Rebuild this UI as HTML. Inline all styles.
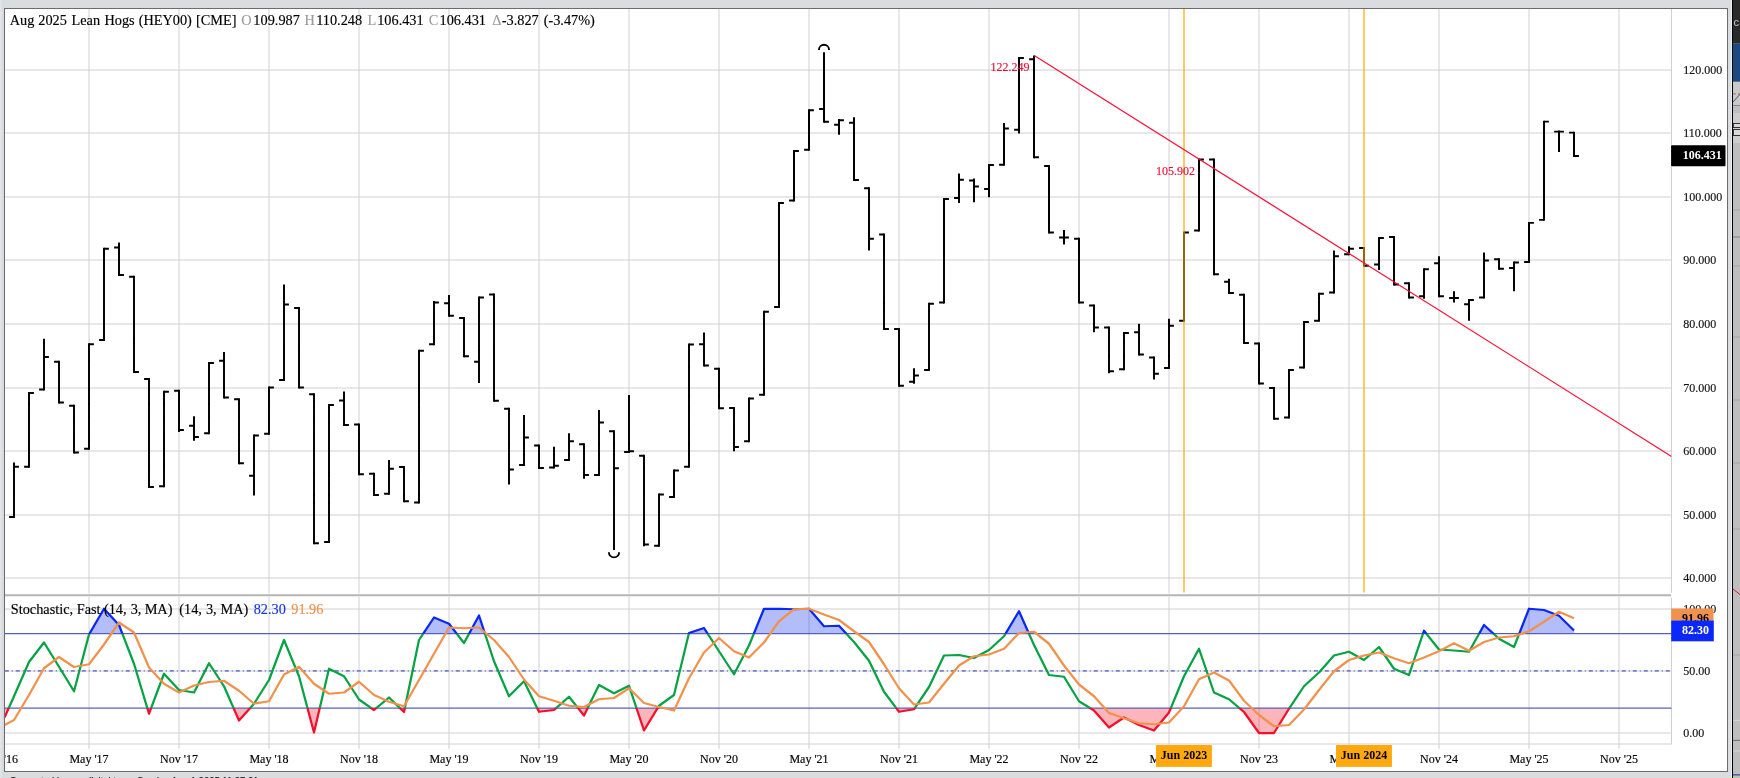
<!DOCTYPE html>
<html><head><meta charset="utf-8"><title>Chart</title>
<style>html,body{margin:0;padding:0;background:#d9dde0;}body{width:1740px;height:778px;overflow:hidden;position:relative;font-family:"Liberation Serif", serif;}</style>
</head><body>
<svg width="1740" height="778" viewBox="0 0 1740 778" style="position:absolute;left:0;top:0;will-change:transform;font-family:'Liberation Serif',serif">
<defs>
<clipPath id="cpPanel"><rect x="5" y="9" width="1722" height="762"/></clipPath>
<clipPath id="cpMain"><rect x="5" y="9" width="1666.5" height="585"/></clipPath>
<clipPath id="cpSt"><rect x="5" y="597" width="1666.5" height="147"/></clipPath>
<clipPath id="cpHi"><rect x="5" y="597" width="1666.5" height="36.75"/></clipPath>
<clipPath id="cpMid"><rect x="5" y="633.75" width="1666.5" height="74.25"/></clipPath>
<clipPath id="cpLo"><rect x="5" y="708" width="1666.5" height="36"/></clipPath>
<linearGradient id="lg" x1="0" x2="1" y1="0" y2="0"><stop offset="0" stop-color="#e4e7ea"/><stop offset="1" stop-color="#d3d7db"/></linearGradient>
</defs>
<rect x="0" y="0" width="1740" height="778" fill="#d9dde0"/>
<rect x="0" y="0" width="4" height="778" fill="url(#lg)"/>
<rect x="4.5" y="8.5" width="1723" height="763" fill="#ffffff" stroke="#6a6c6f" stroke-width="1"/>
<line x1="89" y1="9" x2="89" y2="593.5" stroke="#d0d0d3" stroke-width="1"/>
<line x1="89" y1="597" x2="89" y2="749" stroke="#d0d0d3" stroke-width="1"/>
<line x1="179" y1="9" x2="179" y2="593.5" stroke="#d0d0d3" stroke-width="1"/>
<line x1="179" y1="597" x2="179" y2="749" stroke="#d0d0d3" stroke-width="1"/>
<line x1="269" y1="9" x2="269" y2="593.5" stroke="#d0d0d3" stroke-width="1"/>
<line x1="269" y1="597" x2="269" y2="749" stroke="#d0d0d3" stroke-width="1"/>
<line x1="359" y1="9" x2="359" y2="593.5" stroke="#d0d0d3" stroke-width="1"/>
<line x1="359" y1="597" x2="359" y2="749" stroke="#d0d0d3" stroke-width="1"/>
<line x1="449" y1="9" x2="449" y2="593.5" stroke="#d0d0d3" stroke-width="1"/>
<line x1="449" y1="597" x2="449" y2="749" stroke="#d0d0d3" stroke-width="1"/>
<line x1="539" y1="9" x2="539" y2="593.5" stroke="#d0d0d3" stroke-width="1"/>
<line x1="539" y1="597" x2="539" y2="749" stroke="#d0d0d3" stroke-width="1"/>
<line x1="629" y1="9" x2="629" y2="593.5" stroke="#d0d0d3" stroke-width="1"/>
<line x1="629" y1="597" x2="629" y2="749" stroke="#d0d0d3" stroke-width="1"/>
<line x1="719" y1="9" x2="719" y2="593.5" stroke="#d0d0d3" stroke-width="1"/>
<line x1="719" y1="597" x2="719" y2="749" stroke="#d0d0d3" stroke-width="1"/>
<line x1="809" y1="9" x2="809" y2="593.5" stroke="#d0d0d3" stroke-width="1"/>
<line x1="809" y1="597" x2="809" y2="749" stroke="#d0d0d3" stroke-width="1"/>
<line x1="899" y1="9" x2="899" y2="593.5" stroke="#d0d0d3" stroke-width="1"/>
<line x1="899" y1="597" x2="899" y2="749" stroke="#d0d0d3" stroke-width="1"/>
<line x1="989" y1="9" x2="989" y2="593.5" stroke="#d0d0d3" stroke-width="1"/>
<line x1="989" y1="597" x2="989" y2="749" stroke="#d0d0d3" stroke-width="1"/>
<line x1="1079" y1="9" x2="1079" y2="593.5" stroke="#d0d0d3" stroke-width="1"/>
<line x1="1079" y1="597" x2="1079" y2="749" stroke="#d0d0d3" stroke-width="1"/>
<line x1="1169" y1="9" x2="1169" y2="593.5" stroke="#d0d0d3" stroke-width="1"/>
<line x1="1169" y1="597" x2="1169" y2="749" stroke="#d0d0d3" stroke-width="1"/>
<line x1="1259" y1="9" x2="1259" y2="593.5" stroke="#d0d0d3" stroke-width="1"/>
<line x1="1259" y1="597" x2="1259" y2="749" stroke="#d0d0d3" stroke-width="1"/>
<line x1="1349" y1="9" x2="1349" y2="593.5" stroke="#d0d0d3" stroke-width="1"/>
<line x1="1349" y1="597" x2="1349" y2="749" stroke="#d0d0d3" stroke-width="1"/>
<line x1="1439" y1="9" x2="1439" y2="593.5" stroke="#d0d0d3" stroke-width="1"/>
<line x1="1439" y1="597" x2="1439" y2="749" stroke="#d0d0d3" stroke-width="1"/>
<line x1="1529" y1="9" x2="1529" y2="593.5" stroke="#d0d0d3" stroke-width="1"/>
<line x1="1529" y1="597" x2="1529" y2="749" stroke="#d0d0d3" stroke-width="1"/>
<line x1="1619" y1="9" x2="1619" y2="593.5" stroke="#d0d0d3" stroke-width="1"/>
<line x1="1619" y1="597" x2="1619" y2="749" stroke="#d0d0d3" stroke-width="1"/>
<line x1="5" y1="70" x2="1671.5" y2="70" stroke="#d0d0d3" stroke-width="1"/>
<line x1="5" y1="133" x2="1671.5" y2="133" stroke="#d0d0d3" stroke-width="1"/>
<line x1="5" y1="197" x2="1671.5" y2="197" stroke="#d0d0d3" stroke-width="1"/>
<line x1="5" y1="260" x2="1671.5" y2="260" stroke="#d0d0d3" stroke-width="1"/>
<line x1="5" y1="324" x2="1671.5" y2="324" stroke="#d0d0d3" stroke-width="1"/>
<line x1="5" y1="388" x2="1671.5" y2="388" stroke="#d0d0d3" stroke-width="1"/>
<line x1="5" y1="451" x2="1671.5" y2="451" stroke="#d0d0d3" stroke-width="1"/>
<line x1="5" y1="515" x2="1671.5" y2="515" stroke="#d0d0d3" stroke-width="1"/>
<line x1="5" y1="578" x2="1671.5" y2="578" stroke="#d0d0d3" stroke-width="1"/>
<line x1="5" y1="609" x2="1671.5" y2="609" stroke="#d0d0d3" stroke-width="1"/>
<line x1="5" y1="671" x2="1671.5" y2="671" stroke="#d0d0d3" stroke-width="1"/>
<line x1="5" y1="733" x2="1671.5" y2="733" stroke="#d0d0d3" stroke-width="1"/>
<line x1="5" y1="744" x2="1671.5" y2="744" stroke="#d0d0d3" stroke-width="1"/>
<line x1="1671.5" y1="9" x2="1671.5" y2="592.8" stroke="#d0d0d4" stroke-width="1"/>
<line x1="1671.5" y1="598" x2="1671.5" y2="744.5" stroke="#d0d0d4" stroke-width="1"/>
<line x1="5" y1="595.3" x2="1671" y2="595.3" stroke="#b4b4b4" stroke-width="2"/>
<path d="M14 462.5V517.9M29 392.1V467.65M44 338.75V390.4M59 360.85V403.4M74 404.85V453.4M89 343.35V449.65M104 247.85V340.9M119 242.5V275.9M134 275.85V372.9M149 378.1V487.9M164 390.85V487.15M179 389.85V432M194 416.25V440.75M209 362.1V434.15M224 352V398.4M239 398.35V464.15M254 434.6V495.5M269 386.6V434.65M284 284.5V380.9M299 307.1V388.4M314 393.35V544.15M329 404.1V542.9M344 391.5V425.9M359 423.6V475.15M374 472.85V495.9M389 460V494.65M404 466.1V502.15M419 349.85V503.4M434 301V345.15M449 295V316.65M464 317.1V357.15M479 296.6V383M494 293.6V401.65M509 407.85V484.5M524 415V465.9M539 444.6V468.9M554 446.75V468.4M569 433.25V460.9M584 443.35V478.75M599 410V475.9M614 430.35V550M629 395V452.9M644 454.85V546.25M659 493.6V546.65M674 469.6V497.9M689 343.6V467.65M704 332.5V366.4M719 367.85V409.15M734 407.1V451.25M749 397.6V442.15M764 310.85V395.65M779 202.1V307.9M794 150.1V201.4M809 109.35V150.65M824 52.25V122.65M839 119V134.75M854 117.25V180.9M869 187.35V250.5M884 233.6V329.9M899 328.1V386.65M914 368.25V383.75M929 302.85V370.9M944 198.1V303.4M959 173.5V203M974 178.5V202.25M989 164.1V197.25M1004 123V165.65M1019 57.1V133.5M1034 55.5V158.15M1049 165.1V233.4M1064 230V244.5M1079 237.85V303.4M1094 304.6V332.25M1109 326.6V373.25M1124 332.1V370.15M1139 323.75V355.4M1154 356.6V379.5M1169 318.75V368.9M1184 231.6V321.65M1199 158.6V231.4M1214 158.6V275.15M1229 278.75V293.9M1244 293.85V343.9M1259 342.6V384.4M1274 387.1V419.65M1289 369.1V418.4M1304 321.1V368.4M1319 292.85V321.65M1334 250.5V293.4M1349 246.25V255.15M1364 247.1V266.65M1379 237.1V270M1394 236.1V285.4M1409 282.35V298.4M1424 268.35V298.75M1439 256.25V297.15M1454 291.25V302.5M1469 299.1V320.75M1484 252.5V298.4M1499 258.35V269.65M1514 261.6V291.25M1529 222V262.9M1544 120.7V220.8M1559 130.4V152.1M1574 131.7V156.9" stroke="#000" stroke-width="1.95" fill="none" clip-path="url(#cpMain)"/>
<path d="M9.1 517H14M14 466.75H18.9M24.1 466.75H29M29 393H33.9M39.1 389.5H44M44 357H48.9M54.1 361.75H59M59 402.5H63.9M69.1 405.75H74M74 452.5H78.9M84.1 448.75H89M89 344.25H93.9M99.1 340H104M104 248.75H108.9M114.1 247.5H119M119 275H123.9M129.1 276.75H134M134 372H138.9M144.1 379H149M149 487H153.9M159.1 486.25H164M164 391.75H168.9M174.1 390.75H179M179 430H183.9M189.1 425.75H194M194 437H198.9M204.1 433.25H209M209 363H213.9M219.1 360.75H224M224 397.5H228.9M234.1 399.25H239M239 463.25H243.9M249.1 475.75H254M254 435.5H258.9M264.1 433.75H269M269 387.5H273.9M279.1 380H284M284 304.5H288.9M294.1 308H299M299 387.5H303.9M309.1 394.25H314M314 543.25H318.9M324.1 542H329M329 405H333.9M339.1 400.5H344M344 425H348.9M354.1 424.5H359M359 474.25H363.9M369.1 473.75H374M374 495H378.9M384.1 493.75H389M389 468.75H393.9M399.1 467H404M404 501.25H408.9M414.1 502.5H419M419 350.75H423.9M429.1 344.25H434M434 302.5H438.9M444.1 303.25H449M449 315.75H453.9M459.1 318H464M464 356.25H468.9M474.1 361.75H479M479 297.5H483.9M489.1 294.5H494M494 400.75H498.9M504.1 408.75H509M509 469.5H513.9M519.1 465H524M524 437.5H528.9M534.1 445.5H539M539 468H543.9M549.1 467.5H554M554 465.75H558.9M564.1 460H569M569 441.25H573.9M579.1 444.25H584M584 475H588.9M594.1 475H599M599 422.5H603.9M609.1 431.25H614M614 468.25H618.9M624.1 452H629M629 451.25H633.9M639.1 455.75H644M644 544.5H648.9M654.1 545.75H659M659 494.5H663.9M669.1 497H674M674 470.5H678.9M684.1 466.75H689M689 344.5H693.9M699.1 344.25H704M704 365.5H708.9M714.1 368.75H719M719 408.25H723.9M729.1 408H734M734 447H738.9M744.1 441.25H749M749 398.5H753.9M759.1 394.75H764M764 311.75H768.9M774.1 307H779M779 203H783.9M789.1 200.5H794M794 151H798.9M804.1 149.75H809M809 110.25H813.9M819.1 109H824M824 121.75H828.9M834.1 124.75H839M839 120.25H843.9M849.1 122.75H854M854 180H858.9M864.1 188.25H869M869 238.75H873.9M879.1 234.5H884M884 329H888.9M894.1 329H899M899 385.75H903.9M909.1 381.75H914M914 375.5H918.9M924.1 370H929M929 303.75H933.9M939.1 302.5H944M944 199H948.9M954.1 198H959M959 179.75H963.9M969.1 180.5H974M974 186.5H978.9M984.1 189H989M989 165H993.9M999.1 164.75H1004M1004 128.5H1008.9M1014.1 129.75H1019M1019 58H1023.9M1029.1 59.25H1034M1034 157.25H1038.9M1044.1 166H1049M1049 232.5H1053.9M1059.1 237.5H1064M1064 237.5H1068.9M1074.1 238.75H1079M1079 302.5H1083.9M1089.1 305.5H1094M1094 327.5H1098.9M1104.1 327.5H1109M1109 371.25H1113.9M1119.1 369.25H1124M1124 333H1128.9M1134.1 332.25H1139M1139 354.5H1143.9M1149.1 357.5H1154M1154 373.75H1158.9M1164.1 368H1169M1169 325.75H1173.9M1179.1 320.75H1184M1184 232.5H1188.9M1194.1 230.5H1199M1199 159.5H1203.9M1209.1 159.5H1214M1214 274.25H1218.9M1224.1 281.75H1229M1229 293H1233.9M1239.1 294.75H1244M1244 343H1248.9M1254.1 343.5H1259M1259 383.5H1263.9M1269.1 388H1274M1274 418.75H1278.9M1284.1 417.5H1289M1289 370H1293.9M1299.1 367.5H1304M1304 322H1308.9M1314.1 320.75H1319M1319 293.75H1323.9M1329.1 292.5H1334M1334 256.25H1338.9M1344.1 254.25H1349M1349 248.75H1353.9M1359.1 248H1364M1364 265.75H1368.9M1374.1 264.5H1379M1379 238H1383.9M1389.1 237H1394M1394 284.5H1398.9M1404.1 283.25H1409M1409 297.5H1413.9M1419.1 296.25H1424M1424 269.25H1428.9M1434.1 263.25H1439M1439 296.25H1443.9M1449.1 298H1454M1454 298H1458.9M1464.1 304.25H1469M1469 300H1473.9M1479.1 297.5H1484M1484 260.5H1488.9M1494.1 259.25H1499M1499 268.75H1503.9M1509.1 268H1514M1514 262.5H1518.9M1524.1 262H1529M1529 222.9H1533.9M1539.1 219.9H1544M1544 121.7H1548.9M1554.1 131.6H1559M1559 131.6H1563.9M1569.1 132.6H1574M1574 156H1578.9" stroke="#000" stroke-width="1.8" fill="none" clip-path="url(#cpMain)"/>
<line x1="1184.0" y1="9" x2="1184.0" y2="592.5" stroke="#ffa500" stroke-opacity="0.6" stroke-width="2"/>
<line x1="1364.0" y1="9" x2="1364.0" y2="592.5" stroke="#ffa500" stroke-opacity="0.6" stroke-width="2"/>
<path d="M818.9 49.9 A5.1 5.1 0 0 1 829.1 49.9" stroke="#000" stroke-width="1.9" fill="none"/>
<path d="M608.9 552.3 A5.1 5.1 0 0 0 619.1 552.3" stroke="#000" stroke-width="1.9" fill="none"/>
<line x1="1034.25" y1="55.5" x2="1671.5" y2="456.4" stroke="#fa0f3a" stroke-width="1.2" clip-path="url(#cpMain)"/>
<text x="990.6" y="71" font-size="12" fill="#ee0c3b" stroke="#ee0c3b" stroke-width="0.15">122.249</text>
<text x="1156.1" y="175" font-size="12" fill="#ee0c3b" stroke="#ee0c3b" stroke-width="0.15">105.902</text>
<text x="22.0" y="24.8" font-size="14.3" fill="#000" text-anchor="middle"  stroke="#000" stroke-width="0.15">Aug</text>
<text x="52.55" y="24.8" font-size="14.3" fill="#000" text-anchor="middle"  stroke="#000" stroke-width="0.15">2025</text>
<text x="85.8" y="24.8" font-size="14.3" fill="#000" text-anchor="middle"  stroke="#000" stroke-width="0.15">Lean</text>
<text x="119.55" y="24.8" font-size="14.3" fill="#000" text-anchor="middle"  stroke="#000" stroke-width="0.15">Hogs</text>
<text x="165.25" y="24.8" font-size="14.3" fill="#000" text-anchor="middle"  stroke="#000" stroke-width="0.15">(HEY00)</text>
<text x="216.2" y="24.8" font-size="14.3" fill="#000" text-anchor="middle"  stroke="#000" stroke-width="0.15">[CME]</text>
<text x="246.5" y="24.8" font-size="14.3" fill="#9a9a9a" text-anchor="middle"  stroke="#9a9a9a" stroke-width="0.15">O</text>
<text x="276.6" y="24.8" font-size="14.3" fill="#000" text-anchor="middle"  stroke="#000" stroke-width="0.15">109.987</text>
<text x="309.55" y="24.8" font-size="14.3" fill="#9a9a9a" text-anchor="middle"  stroke="#9a9a9a" stroke-width="0.15">H</text>
<text x="339.15" y="24.8" font-size="14.3" fill="#000" text-anchor="middle"  stroke="#000" stroke-width="0.15">110.248</text>
<text x="371.95" y="24.8" font-size="14.3" fill="#9a9a9a" text-anchor="middle"  stroke="#9a9a9a" stroke-width="0.15">L</text>
<text x="400.45" y="24.8" font-size="14.3" fill="#000" text-anchor="middle"  stroke="#000" stroke-width="0.15">106.431</text>
<text x="433.45" y="24.8" font-size="14.3" fill="#9a9a9a" text-anchor="middle"  stroke="#9a9a9a" stroke-width="0.15">C</text>
<text x="462.75" y="24.8" font-size="14.3" fill="#000" text-anchor="middle"  stroke="#000" stroke-width="0.15">106.431</text>
<text x="496.85" y="24.8" font-size="14.3" fill="#9a9a9a" text-anchor="middle"  stroke="#9a9a9a" stroke-width="0.15">&#916;</text>
<text x="520.25" y="24.8" font-size="14.3" fill="#000" text-anchor="middle"  stroke="#000" stroke-width="0.15">-3.827</text>
<text x="569.25" y="24.8" font-size="14.3" fill="#000" text-anchor="middle"  stroke="#000" stroke-width="0.15">(-3.47%)</text>
<text x="1683.3" y="73.7" font-size="12" fill="#111" stroke="#111" stroke-width="0.15">120.000</text>
<text x="1683.3" y="136.7" font-size="12" fill="#111" stroke="#111" stroke-width="0.15">110.000</text>
<text x="1683.3" y="200.7" font-size="12" fill="#111" stroke="#111" stroke-width="0.15">100.000</text>
<text x="1683.3" y="263.7" font-size="12" fill="#111" stroke="#111" stroke-width="0.15">90.000</text>
<text x="1683.3" y="327.7" font-size="12" fill="#111" stroke="#111" stroke-width="0.15">80.000</text>
<text x="1683.3" y="391.7" font-size="12" fill="#111" stroke="#111" stroke-width="0.15">70.000</text>
<text x="1683.3" y="454.7" font-size="12" fill="#111" stroke="#111" stroke-width="0.15">60.000</text>
<text x="1683.3" y="518.7" font-size="12" fill="#111" stroke="#111" stroke-width="0.15">50.000</text>
<text x="1683.3" y="581.7" font-size="12" fill="#111" stroke="#111" stroke-width="0.15">40.000</text>
<rect x="1671.1" y="145.3" width="54.4" height="21" rx="0.8" fill="#000"/>
<text x="1682.7" y="159" font-size="12" font-weight="bold" fill="#fff">106.431</text>
<polygon points="4.5,633.75 4.5,717.5 14,696.25 29,662 44,642.5 59,666.75 74,691.25 89,634.5 104,608.75 119,625 134,663.75 149,713.75 164,673.75 179,690 194,692.5 209,663.25 224,686.25 239,720.5 254,703.75 269,680 284,640 299,676.25 314,732.5 329,668.75 344,676.25 359,699.5 374,710 389,697.5 404,712 419,640 434,617.5 449,623.75 464,643 479,615.5 494,661.25 509,696.25 524,681.25 539,711.75 554,710 569,696.75 584,715.5 599,685 614,693.25 629,685.75 644,730.5 659,705.75 674,695 689,633 704,628 719,651.25 734,674.25 749,645.5 764,608.75 779,608.75 794,609.25 809,608.75 824,626.25 839,625.75 854,642 869,660.75 884,691.75 899,711.75 914,709.25 929,687 944,655.5 959,655 974,658 989,650 1004,636.25 1019,611.25 1034,645 1049,675 1064,676.75 1079,701.25 1094,710.5 1109,727.5 1124,717.5 1139,725 1154,730.5 1169,712.5 1184,676.25 1199,648.75 1214,692.5 1229,699.25 1244,712 1259,733 1274,733 1289,708.75 1304,686.25 1319,672.5 1334,655.5 1349,651.75 1364,660 1379,647 1394,668.75 1409,675 1424,630.75 1439,649.5 1454,650.5 1469,651.75 1484,625 1499,638.75 1514,647 1529,608.75 1544,610 1559,615.75 1574,630.5 1574,633.75" fill="#1432f0" fill-opacity="0.32" clip-path="url(#cpHi)"/>
<polygon points="4.5,708 4.5,717.5 14,696.25 29,662 44,642.5 59,666.75 74,691.25 89,634.5 104,608.75 119,625 134,663.75 149,713.75 164,673.75 179,690 194,692.5 209,663.25 224,686.25 239,720.5 254,703.75 269,680 284,640 299,676.25 314,732.5 329,668.75 344,676.25 359,699.5 374,710 389,697.5 404,712 419,640 434,617.5 449,623.75 464,643 479,615.5 494,661.25 509,696.25 524,681.25 539,711.75 554,710 569,696.75 584,715.5 599,685 614,693.25 629,685.75 644,730.5 659,705.75 674,695 689,633 704,628 719,651.25 734,674.25 749,645.5 764,608.75 779,608.75 794,609.25 809,608.75 824,626.25 839,625.75 854,642 869,660.75 884,691.75 899,711.75 914,709.25 929,687 944,655.5 959,655 974,658 989,650 1004,636.25 1019,611.25 1034,645 1049,675 1064,676.75 1079,701.25 1094,710.5 1109,727.5 1124,717.5 1139,725 1154,730.5 1169,712.5 1184,676.25 1199,648.75 1214,692.5 1229,699.25 1244,712 1259,733 1274,733 1289,708.75 1304,686.25 1319,672.5 1334,655.5 1349,651.75 1364,660 1379,647 1394,668.75 1409,675 1424,630.75 1439,649.5 1454,650.5 1469,651.75 1484,625 1499,638.75 1514,647 1529,608.75 1544,610 1559,615.75 1574,630.5 1574,708" fill="#f50a1e" fill-opacity="0.3" clip-path="url(#cpLo)"/>
<line x1="5" y1="633.6" x2="1671.5" y2="633.6" stroke="#5860be" stroke-width="1.35"/>
<line x1="5" y1="708.1" x2="1671.5" y2="708.1" stroke="#5860be" stroke-width="1.35"/>
<line x1="4.8" y1="670.9" x2="1671.5" y2="670.9" stroke="#7b80cc" stroke-width="1.8" stroke-dasharray="4 3 1 3"/>
<polyline points="4.5,717.5 14,696.25 29,662 44,642.5 59,666.75 74,691.25 89,634.5 104,608.75 119,625 134,663.75 149,713.75 164,673.75 179,690 194,692.5 209,663.25 224,686.25 239,720.5 254,703.75 269,680 284,640 299,676.25 314,732.5 329,668.75 344,676.25 359,699.5 374,710 389,697.5 404,712 419,640 434,617.5 449,623.75 464,643 479,615.5 494,661.25 509,696.25 524,681.25 539,711.75 554,710 569,696.75 584,715.5 599,685 614,693.25 629,685.75 644,730.5 659,705.75 674,695 689,633 704,628 719,651.25 734,674.25 749,645.5 764,608.75 779,608.75 794,609.25 809,608.75 824,626.25 839,625.75 854,642 869,660.75 884,691.75 899,711.75 914,709.25 929,687 944,655.5 959,655 974,658 989,650 1004,636.25 1019,611.25 1034,645 1049,675 1064,676.75 1079,701.25 1094,710.5 1109,727.5 1124,717.5 1139,725 1154,730.5 1169,712.5 1184,676.25 1199,648.75 1214,692.5 1229,699.25 1244,712 1259,733 1274,733 1289,708.75 1304,686.25 1319,672.5 1334,655.5 1349,651.75 1364,660 1379,647 1394,668.75 1409,675 1424,630.75 1439,649.5 1454,650.5 1469,651.75 1484,625 1499,638.75 1514,647 1529,608.75 1544,610 1559,615.75 1574,630.5" fill="none" stroke="#05a343" stroke-width="2.25" stroke-linejoin="round" clip-path="url(#cpMid)"/>
<polyline points="4.5,717.5 14,696.25 29,662 44,642.5 59,666.75 74,691.25 89,634.5 104,608.75 119,625 134,663.75 149,713.75 164,673.75 179,690 194,692.5 209,663.25 224,686.25 239,720.5 254,703.75 269,680 284,640 299,676.25 314,732.5 329,668.75 344,676.25 359,699.5 374,710 389,697.5 404,712 419,640 434,617.5 449,623.75 464,643 479,615.5 494,661.25 509,696.25 524,681.25 539,711.75 554,710 569,696.75 584,715.5 599,685 614,693.25 629,685.75 644,730.5 659,705.75 674,695 689,633 704,628 719,651.25 734,674.25 749,645.5 764,608.75 779,608.75 794,609.25 809,608.75 824,626.25 839,625.75 854,642 869,660.75 884,691.75 899,711.75 914,709.25 929,687 944,655.5 959,655 974,658 989,650 1004,636.25 1019,611.25 1034,645 1049,675 1064,676.75 1079,701.25 1094,710.5 1109,727.5 1124,717.5 1139,725 1154,730.5 1169,712.5 1184,676.25 1199,648.75 1214,692.5 1229,699.25 1244,712 1259,733 1274,733 1289,708.75 1304,686.25 1319,672.5 1334,655.5 1349,651.75 1364,660 1379,647 1394,668.75 1409,675 1424,630.75 1439,649.5 1454,650.5 1469,651.75 1484,625 1499,638.75 1514,647 1529,608.75 1544,610 1559,615.75 1574,630.5" fill="none" stroke="#0a28f5" stroke-width="2.25" stroke-linejoin="round" clip-path="url(#cpHi)"/>
<polyline points="4.5,717.5 14,696.25 29,662 44,642.5 59,666.75 74,691.25 89,634.5 104,608.75 119,625 134,663.75 149,713.75 164,673.75 179,690 194,692.5 209,663.25 224,686.25 239,720.5 254,703.75 269,680 284,640 299,676.25 314,732.5 329,668.75 344,676.25 359,699.5 374,710 389,697.5 404,712 419,640 434,617.5 449,623.75 464,643 479,615.5 494,661.25 509,696.25 524,681.25 539,711.75 554,710 569,696.75 584,715.5 599,685 614,693.25 629,685.75 644,730.5 659,705.75 674,695 689,633 704,628 719,651.25 734,674.25 749,645.5 764,608.75 779,608.75 794,609.25 809,608.75 824,626.25 839,625.75 854,642 869,660.75 884,691.75 899,711.75 914,709.25 929,687 944,655.5 959,655 974,658 989,650 1004,636.25 1019,611.25 1034,645 1049,675 1064,676.75 1079,701.25 1094,710.5 1109,727.5 1124,717.5 1139,725 1154,730.5 1169,712.5 1184,676.25 1199,648.75 1214,692.5 1229,699.25 1244,712 1259,733 1274,733 1289,708.75 1304,686.25 1319,672.5 1334,655.5 1349,651.75 1364,660 1379,647 1394,668.75 1409,675 1424,630.75 1439,649.5 1454,650.5 1469,651.75 1484,625 1499,638.75 1514,647 1529,608.75 1544,610 1559,615.75 1574,630.5" fill="none" stroke="#f40f2d" stroke-width="2.25" stroke-linejoin="round" clip-path="url(#cpLo)"/>
<polyline points="4.5,725 14,720 29,695 44,668.25 59,657 74,667 89,664.25 104,644.5 119,622.5 134,632.5 149,667.5 164,683.75 179,692.5 194,685.5 209,682 224,680.75 239,690.75 254,703.75 269,701.25 284,674.5 299,666.75 314,683.75 329,693.75 344,692.5 359,681.75 374,695 389,701.75 404,706.25 419,680 434,653.75 449,627.5 464,628.25 479,627.5 494,640 509,657 524,679.5 539,696.25 554,700.75 569,705.75 584,707 599,699.25 614,698 629,688.25 644,703 659,707 674,710.5 689,678.25 704,652.5 719,638 734,651.25 749,657.5 764,642.5 779,621.25 794,609.25 809,608.75 824,614.5 839,620 854,631.25 869,642 884,664.25 899,688.25 914,704.5 929,702.5 944,683.75 959,665.5 974,656.25 989,654.5 1004,648.75 1019,633 1034,631.75 1049,643.75 1064,665.5 1079,684.5 1094,696.25 1109,713 1124,718.25 1139,723.25 1154,724.25 1169,722.5 1184,706.25 1199,679.25 1214,672.5 1229,680.5 1244,700.75 1259,715 1274,726.25 1289,725 1304,709.5 1319,690 1334,671.25 1349,660 1364,655.5 1379,652.5 1394,658.25 1409,663.25 1424,657.5 1439,651.25 1454,643.25 1469,650.75 1484,642 1499,637.5 1514,636.25 1529,631.25 1544,621.75 1559,611.75 1574,618.25" fill="none" stroke="#f0924c" stroke-width="2.25" stroke-linejoin="round" clip-path="url(#cpSt)"/>
<text x="41.9" y="613.6" font-size="14.3" fill="#000" text-anchor="middle"  stroke="#000" stroke-width="0.15">Stochastic,</text>
<text x="88.65" y="613.6" font-size="14.3" fill="#000" text-anchor="middle"  stroke="#000" stroke-width="0.15">Fast</text>
<text x="115.25" y="613.6" font-size="14.3" fill="#000" text-anchor="middle"  stroke="#000" stroke-width="0.15">(14,</text>
<text x="136.1" y="613.6" font-size="14.3" fill="#000" text-anchor="middle"  stroke="#000" stroke-width="0.15">3,</text>
<text x="158.55" y="613.6" font-size="14.3" fill="#000" text-anchor="middle"  stroke="#000" stroke-width="0.15">MA)</text>
<text x="190.6" y="613.6" font-size="14.3" fill="#000" text-anchor="middle"  stroke="#000" stroke-width="0.15">(14,</text>
<text x="211.25" y="613.6" font-size="14.3" fill="#000" text-anchor="middle"  stroke="#000" stroke-width="0.15">3,</text>
<text x="234.4" y="613.6" font-size="14.3" fill="#000" text-anchor="middle"  stroke="#000" stroke-width="0.15">MA)</text>
<text x="269.75" y="613.6" font-size="14.3" fill="#1436e6" text-anchor="middle"  stroke="#1436e6" stroke-width="0.15">82.30</text>
<text x="307.35" y="613.6" font-size="14.3" fill="#f0924c" text-anchor="middle"  stroke="#f0924c" stroke-width="0.15">91.96</text>
<text x="1683.3" y="612.9" font-size="12" fill="#111" stroke="#111" stroke-width="0.15">100.00</text>
<text x="1683.3" y="675" font-size="12" fill="#111" stroke="#111" stroke-width="0.15">50.00</text>
<text x="1683.3" y="737.2" font-size="12" fill="#111" stroke="#111" stroke-width="0.15">0.00</text>
<rect x="1671.2" y="608.4" width="42.3" height="12.3" fill="#f0914d"/>
<text x="1681.9" y="622.2" font-size="12" font-weight="bold" fill="#000">91.96</text>
<rect x="1671.2" y="620.5" width="42.6" height="20.8" fill="#0a28fa"/>
<text x="1682" y="633.9" font-size="12" font-weight="bold" fill="#fff">82.30</text>
<g clip-path="url(#cpPanel)" font-size="12" fill="#000" stroke="#000" stroke-width="0.15" text-anchor="middle">
<text x="-1" y="763">Nov &#39;16</text>
<text x="89" y="763">May &#39;17</text>
<text x="179" y="763">Nov &#39;17</text>
<text x="269" y="763">May &#39;18</text>
<text x="359" y="763">Nov &#39;18</text>
<text x="449" y="763">May &#39;19</text>
<text x="539" y="763">Nov &#39;19</text>
<text x="629" y="763">May &#39;20</text>
<text x="719" y="763">Nov &#39;20</text>
<text x="809" y="763">May &#39;21</text>
<text x="899" y="763">Nov &#39;21</text>
<text x="989" y="763">May &#39;22</text>
<text x="1079" y="763">Nov &#39;22</text>
<text x="1169" y="763">May &#39;23</text>
<text x="1259" y="763">Nov &#39;23</text>
<text x="1349" y="763">May &#39;24</text>
<text x="1439" y="763">Nov &#39;24</text>
<text x="1529" y="763">May &#39;25</text>
<text x="1619" y="763">Nov &#39;25</text>
</g>
<rect x="1156.0" y="745" width="55.9" height="21.9" fill="#ffa90f"/>
<text x="1184.0" y="759.1" font-size="12" font-weight="bold" fill="#000" text-anchor="middle">Jun 2023</text>
<rect x="1336.0" y="745" width="55.9" height="21.9" fill="#ffa90f"/>
<text x="1364.0" y="759.1" font-size="12" font-weight="bold" fill="#000" text-anchor="middle">Jun 2024</text>
<rect x="1731" y="0" width="1" height="778" fill="#eef1f4"/>
<rect x="1732" y="0" width="1" height="778" fill="#000"/>
<rect x="1733" y="0" width="7" height="778" fill="#bebebe"/>
<rect x="1733" y="0" width="7" height="43.6" fill="#2a2a2a"/>
<text x="1733.5" y="26" font-size="11" fill="#bbb" font-family="&quot;Liberation Sans&quot;, sans-serif" stroke="#bbb" stroke-width="0.15">c</text>
<rect x="1733" y="43.6" width="7" height="38.2" fill="#1c4a80"/>
<rect x="1733" y="81.8" width="7" height="23.7" fill="#c9c9c9"/>
<line x1="1733" y1="93.9" x2="1740" y2="93.9" stroke="#777" stroke-width="1" stroke-dasharray="3 2"/>
<path d="M1733 102 L1740 94.2" stroke="#555" stroke-width="1" fill="none"/>
<line x1="1733" y1="105.5" x2="1740" y2="105.5" stroke="#888" stroke-width="1"/>
<rect x="1733" y="113" width="7" height="30" fill="#cdcdcd"/>
<rect x="1733.4" y="123.5" width="8" height="4" fill="#d8d8d8" stroke="#333" stroke-width="1"/>
<rect x="1733.4" y="129.5" width="8" height="6" fill="#d8d8d8" stroke="#333" stroke-width="1"/>
<line x1="1733" y1="210" x2="1740" y2="210" stroke="#a8a8a8" stroke-width="1.2"/>
<line x1="1733" y1="237" x2="1740" y2="237" stroke="#8a8a8a" stroke-width="1.2"/>
<line x1="1733" y1="266" x2="1740" y2="266" stroke="#a8a8a8" stroke-width="1.2"/>
<line x1="1733" y1="337" x2="1740" y2="337" stroke="#a8a8a8" stroke-width="1.2"/>
<line x1="1733" y1="400" x2="1740" y2="400" stroke="#a8a8a8" stroke-width="1.2"/>
<line x1="1733" y1="463" x2="1740" y2="463" stroke="#a8a8a8" stroke-width="1.2"/>
<line x1="1733" y1="529" x2="1740" y2="529" stroke="#a8a8a8" stroke-width="1.2"/>
<line x1="1733" y1="655" x2="1740" y2="655" stroke="#a8a8a8" stroke-width="1.2"/>
<line x1="1733" y1="720.5" x2="1740" y2="720.5" stroke="#d2d2d2" stroke-width="1.2"/>
<line x1="1733" y1="740.4" x2="1740" y2="740.4" stroke="#777" stroke-width="1.2"/>
<line x1="1733" y1="751" x2="1740" y2="751" stroke="#d2d2d2" stroke-width="1.2"/>
<line x1="1733" y1="589" x2="1740" y2="594.5" stroke="#d0203a" stroke-width="1"/>
<rect x="1733" y="774" width="7" height="1.6" fill="#5560a8"/>
<text x="9.5" y="784.9" font-size="11" textLength="249" lengthAdjust="spacingAndGlyphs" font-family="&quot;Liberation Sans&quot;, sans-serif" fill="#111" stroke="#111" stroke-width="0.15">Generated by our digital team Sunday Aug 1 2025 11:27:21</text>
</svg>
</body></html>
